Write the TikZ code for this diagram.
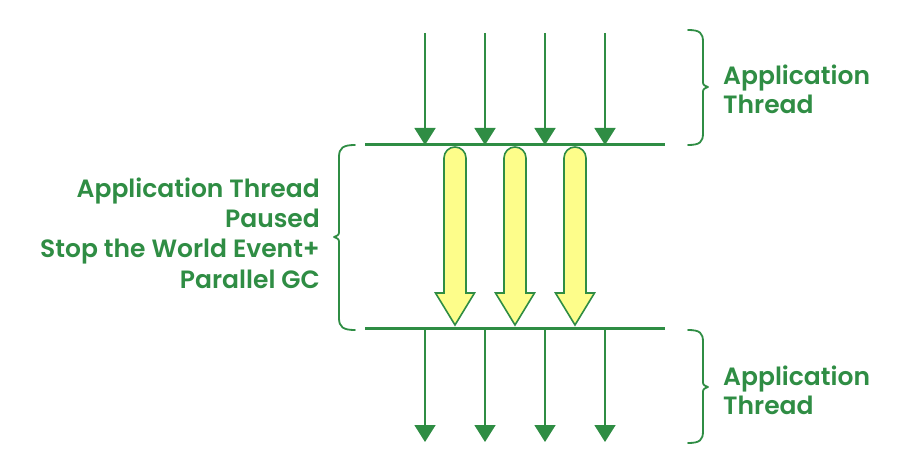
\documentclass[tikz,border=0pt]{standalone}
\usepackage{fontspec}
\setmainfont{Poppins}[UprightFont={* SemiBold}]
\usetikzlibrary{arrows.meta}
\definecolor{gfg}{RGB}{47,141,68}
\definecolor{yel}{RGB}{253,253,138}
\tikzset{
  thin arrow/.style={draw=gfg, line width=1.8pt, -{Triangle[width=21pt,length=17pt]}},
  bar/.style={draw=gfg, line width=3pt},
  bracepath/.style={draw=gfg, line width=1.8pt, line cap=round, line join=round},
  lbl/.style={text=gfg, font=\fontsize{25}{30}\selectfont, inner sep=0pt},
  blockarrow/.style={draw=gfg, fill=yel, line width=1.6pt, line join=miter}
}
\begin{document}
\begin{tikzpicture}[x=1pt,y=-1pt]
\useasboundingbox (0,0) rectangle (900,473);
% bars
\coordinate (t1) at (365,145); \coordinate (t2) at (665,145);
\coordinate (b1) at (365,328); \coordinate (b2) at (665,328);
\draw[bar] (t1) -- (t2);
\draw[bar] (b1) -- (b2);
% thin arrows
\foreach \i/\x in {1/425,2/485,3/545,4/605}{
  \coordinate (ts\i) at (\x,33);
  \coordinate (te\i) at (\x,145);
  \coordinate (bs\i) at (\x,329);
  \coordinate (be\i) at (\x,442);
  \draw[thin arrow] (ts\i) -- (te\i);
  \draw[thin arrow] (bs\i) -- (be\i);
}
% yellow block arrows
\foreach \x in {455,515,575}{
  \draw[blockarrow] (\x-11,293) -- (\x-11,158) arc(180:360:11) -- (\x+11,293)
     -- (\x+19.5,293) -- (\x,325) -- (\x-19.5,293) -- cycle;
}
% right braces
\draw[bracepath] (688,30) .. controls (700,30) and (703,33) .. (703,42) -- (703,80)
   .. controls (703,85) .. (708,87) .. controls (703,89) .. (703,94) -- (703,133)
   .. controls (703,142) and (700,145) .. (688,145);
\draw[bracepath] (688,330) .. controls (700,330) and (703,333) .. (703,342) -- (703,380)
   .. controls (703,385) .. (708,387) .. controls (703,389) .. (703,394) -- (703,431)
   .. controls (703,440) and (700,443) .. (688,443);
% left brace
\draw[bracepath] (355,145) .. controls (343,145) and (339,148) .. (339,157) -- (339,230)
   .. controls (339,235) .. (334,237) .. controls (339,239) .. (339,244) -- (339,318)
   .. controls (339,327) and (343,330) .. (355,330);
% labels
\node[lbl, anchor=base west] (r1) at (723,85) {Application};
\node[lbl, anchor=base west] (r2) at (723,114) {Thread};
\node[lbl, anchor=base west] (r3) at (723,385) {Application};
\node[lbl, anchor=base west] (r4) at (723,414) {Thread};
\node[lbl, anchor=base east] (l1) at (320,198) {Application Thread};
\node[lbl, anchor=base east] (l2) at (320,228) {Paused};
\node[lbl, anchor=base east] (l3) at (320,258) {Stop the World Event+};
\node[lbl, anchor=base east] (l4) at (320,289) {Parallel GC};
\end{tikzpicture}
\end{document}
